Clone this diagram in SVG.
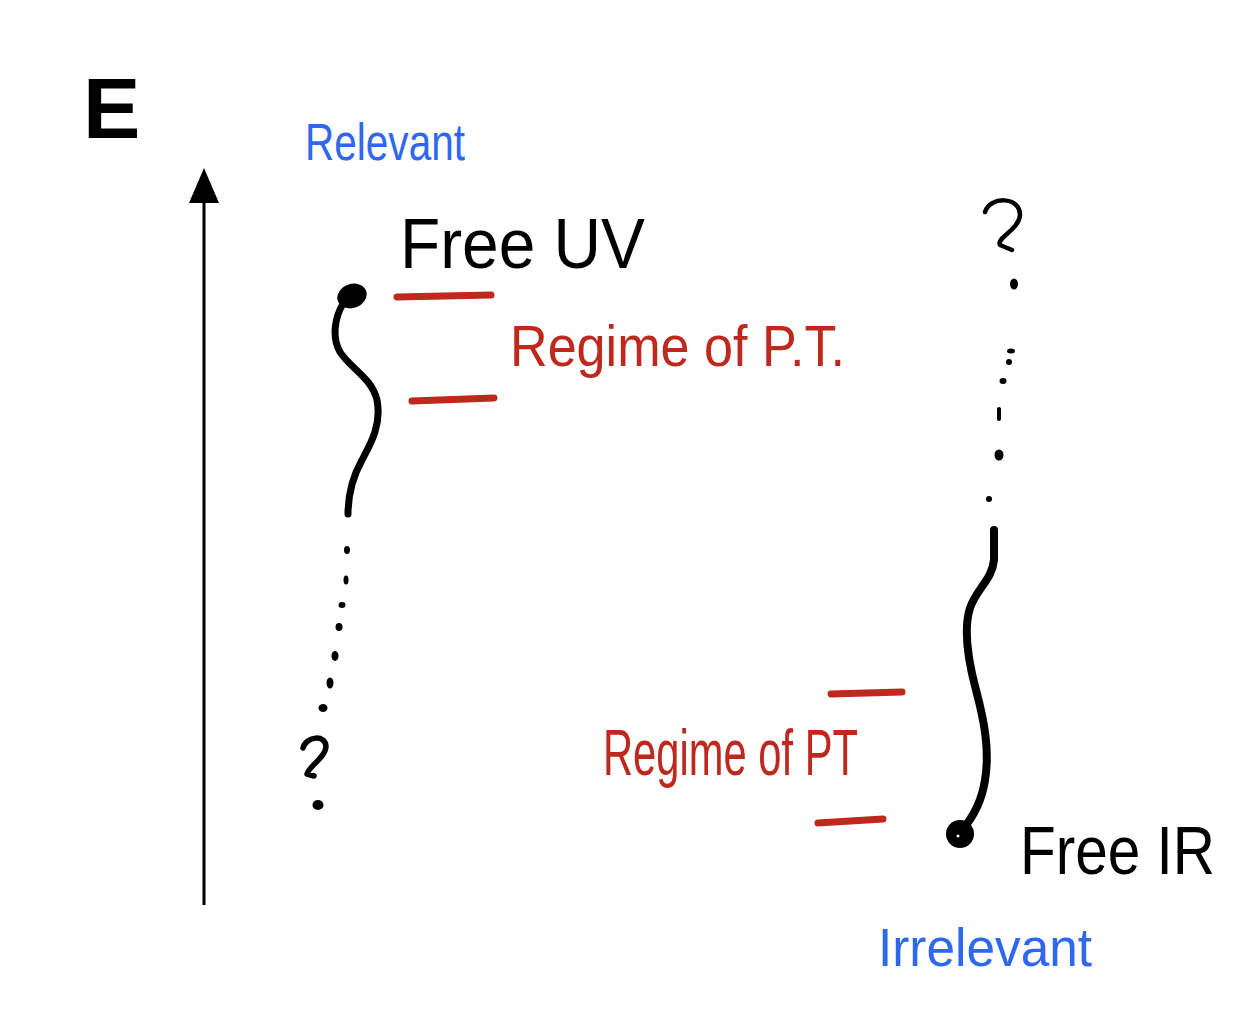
<svg xmlns="http://www.w3.org/2000/svg" width="1258" height="1010" viewBox="0 0 1258 1010">
<style>
.ink{fill:none;stroke:#000;stroke-linecap:round;stroke-linejoin:round}
.red{fill:none;stroke:#bf281d;stroke-width:7;stroke-linecap:round}
.dot{fill:#000}
.t{font-family:"Liberation Sans","DejaVu Sans",sans-serif}
.blue{fill:#2f68f0}
.rt{fill:#bf281d}
.bk{fill:#000}
</style>
<rect width="1258" height="1010" fill="#fff"/>

<g id="axis">
<line x1="204" y1="905" x2="204" y2="200" stroke="#000" stroke-width="3"/>
<polygon points="204,168 189,203 219,203" fill="#000"/>
<text class="t bk" x="83" y="138" font-size="86" font-weight="bold">E</text>
</g>

<g id="labels">
<text class="t blue" x="305" y="160" font-size="52" textLength="160" lengthAdjust="spacingAndGlyphs">Relevant</text>
<text class="t blue" x="878" y="966" font-size="54" textLength="214" lengthAdjust="spacingAndGlyphs">Irrelevant</text>
</g>

<g id="free-uv">
<text class="t bk" x="400" y="268" font-size="70" textLength="245" lengthAdjust="spacingAndGlyphs">Free UV</text>
</g>

<g id="free-ir">
<text class="t bk" x="1020" y="874" font-size="68" textLength="195" lengthAdjust="spacingAndGlyphs">Free IR</text>
</g>

<g id="regime-top">
<text class="t rt" x="510" y="366" font-size="58" textLength="335" lengthAdjust="spacingAndGlyphs">Regime of P.T.</text>
</g>

<g id="regime-bottom">
<text class="t rt" x="603" y="775" font-size="64" textLength="255" lengthAdjust="spacingAndGlyphs">Regime of PT</text>
</g>

<g id="connectors">
<ellipse cx="352" cy="296" rx="15" ry="12" transform="rotate(-20 352 296)" class="dot"/>
<path class="ink" stroke-width="7" d="M344,302 C334,318 332,338 340,352 C350,368 372,378 377,400 C382,425 370,445 362,460 C352,478 348,498 348,514"/>
<line class="red" x1="397" y1="297" x2="491" y2="295"/>
<line class="red" x1="412" y1="401" x2="494" y2="398"/>
<g class="dot">
<ellipse cx="347" cy="550" rx="3" ry="4"/>
<ellipse cx="346" cy="580" rx="2.5" ry="4.5"/>
<ellipse cx="342" cy="605" rx="3.5" ry="3"/>
<ellipse cx="339" cy="627" rx="3.5" ry="4"/>
<ellipse cx="335" cy="656" rx="3.5" ry="5"/>
<ellipse cx="330" cy="683" rx="3.5" ry="5.5"/>
<ellipse cx="323" cy="708" rx="4.5" ry="4"/>
<ellipse cx="318" cy="805" rx="5.5" ry="5"/>
</g>
<path class="ink" stroke-width="5.5" d="M303,748 C306,736 326,734 326,747 C325,758 310,765 307,774 L314,776"/>

<path class="ink" stroke-width="4.5" d="M985,212 C990,196 1020,196 1020,215 C1019,230 996,238 1000,245 L1012,250"/>
<g class="dot">
<ellipse cx="1014" cy="284" rx="4" ry="5.5"/>
<ellipse cx="1011" cy="351" rx="4" ry="2.5"/>
<ellipse cx="1009" cy="362" rx="3" ry="3"/>
<ellipse cx="1003" cy="381" rx="3.5" ry="3"/>
<rect x="997" y="407" width="4" height="14" rx="2"/>
<ellipse cx="999" cy="455" rx="4.5" ry="5.5"/>
<circle cx="989" cy="499" r="3"/>
</g>
<path class="ink" stroke-width="8" d="M994,530 L994,560 C992,580 977,588 970,608 C963,630 968,660 976,690 C984,720 990,750 985,780 C982,800 975,815 962,830"/>
<ellipse cx="960" cy="834" rx="14" ry="14" class="dot"/>
<circle cx="958" cy="836" r="1.5" fill="#fff"/>
<line class="red" x1="831" y1="694" x2="902" y2="692"/>
<line class="red" x1="818" y1="823" x2="883" y2="819"/>
</g>
</svg>
